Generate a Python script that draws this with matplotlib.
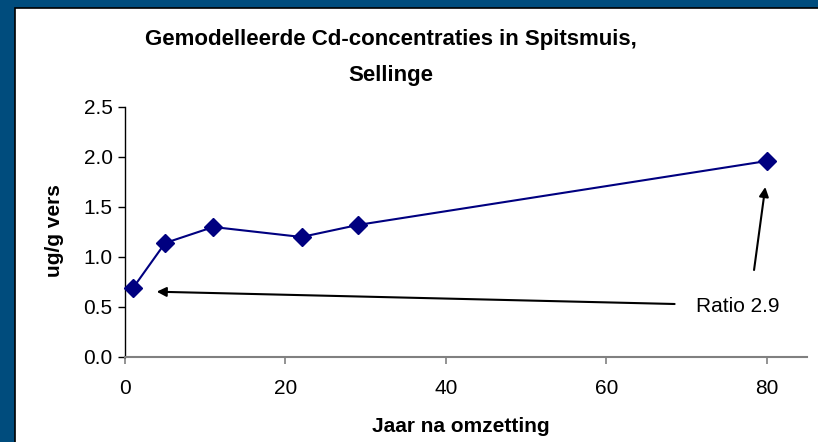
import matplotlib
matplotlib.use('Agg')
import matplotlib.pyplot as plt
from matplotlib.patches import Rectangle

plt.rcParams['font.family'] = ['Liberation Sans', 'DejaVu Sans']

# 数据
jaar = [1, 5, 11, 22, 29, 80]
cd_conc = [0.69, 1.14, 1.30, 1.20, 1.32, 1.96]
y_ticks = [0.0, 0.5, 1.0, 1.5, 2.0, 2.5]
x_ticks = [0, 20, 40, 60, 80]

W, H = 818, 442
fig = plt.figure(figsize=(W / 100, H / 100), dpi=100)
fig.patch.set_facecolor('#004C7D')

# 白色面板（右边和下边超出画布）
panel = Rectangle((15 / W, -0.1), 1.1, 1.1 - 8 / H, transform=fig.transFigure,
                  facecolor='white', edgecolor='black', linewidth=1.2, zorder=-10)
fig.patches.append(panel)

ax = fig.add_axes([125 / W, (H - 357) / H, (807 - 125) / W, (357 - 107) / H])
ax.set_facecolor('none')
ax.set_zorder(5)

ax.plot(jaar, cd_conc, color='#000080', linewidth=1.5, marker='D',
        markersize=9, markerfacecolor='#000080', markeredgecolor='#000080',
        clip_on=False, zorder=3)

ax.set_xlim(0, 85)
ax.set_ylim(0, 2.5)
ax.set_xticks(x_ticks)
ax.set_yticks(y_ticks)
ax.set_yticklabels([f'{v:.1f}' for v in y_ticks])

ax.spines['top'].set_visible(False)
ax.spines['right'].set_visible(False)
ax.spines['bottom'].set_color('#808080')
ax.spines['bottom'].set_linewidth(1.5)
ax.spines['left'].set_color('black')
ax.spines['left'].set_linewidth(1.0)
ax.tick_params(axis='x', colors='#808080', labelcolor='black', length=5,
               width=1.2, labelsize=15, pad=11)
ax.tick_params(axis='y', colors='black', length=5, width=1.0, labelsize=15, pad=4)

fig.text(461 / W, 1 - 427 / H, 'Jaar na omzetting', fontsize=15,
         fontweight='bold', ha='center', va='center')
fig.text(55 / W, 1 - 231 / H, 'ug/g vers', rotation=90, fontsize=15,
         fontweight='bold', ha='center', va='center')

# 标题
fig.text(391 / W, 1 - 40 / H, 'Gemodelleerde Cd-concentraties in Spitsmuis,',
         fontsize=16, fontweight='bold', ha='center', va='center')
fig.text(391 / W, 1 - 75 / H, 'Sellinge',
         fontsize=16, fontweight='bold', ha='center', va='center')

# 箭头和注释
arrow = dict(arrowstyle='-|>', color='black', lw=1.5, mutation_scale=14,
             shrinkA=0, shrinkB=0)
ax.annotate('', xy=(3.95, 0.653), xytext=(68.5, 0.53), arrowprops=arrow)
ax.annotate('', xy=(79.8, 1.70), xytext=(78.4, 0.87), arrowprops=arrow)
ax.text(71.2, 0.50, 'Ratio 2.9', fontsize=15, ha='left', va='center')

fig.savefig('out.png', dpi=100, facecolor=fig.get_facecolor())
